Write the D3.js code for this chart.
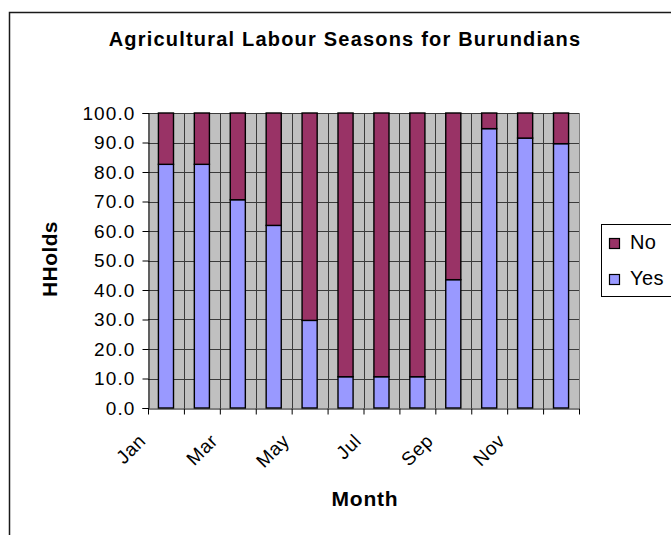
<!DOCTYPE html>
<html>
<head>
<meta charset="utf-8">
<script src="https://cdn.jsdelivr.net/npm/d3@7"></script>
<style>
  html, body { margin: 0; padding: 0; background: #fff; }
  svg { display: block; }
  text { font-family: "Liberation Sans", Arial, sans-serif; fill: #000; }
</style>
</head>
<body>
<svg id="chart" width="671" height="535"></svg>
<script>
// ---- data ----
const months = ["Jan","Feb","Mar","Apr","May","Jun","Jul","Aug","Sep","Oct","Nov","Dec"];
const yesValues = [82.6, 82.6, 70.6, 61.9, 29.7, 10.6, 10.6, 10.6, 43.5, 94.7, 91.5, 89.6];
const noValues  = [17.4, 17.4, 29.4, 38.1, 70.3, 89.4, 89.4, 89.4, 56.5, 5.3, 8.5, 10.4];
const seriesNames = ["Yes", "No"];
const yTickValues = [0, 10, 20, 30, 40, 50, 60, 70, 80, 90, 100];
const xTickLabels = ["Jan", "", "Mar", "", "May", "", "Jul", "", "Sep", "", "Nov", ""];
const titleText = "Agricultural Labour Seasons for Burundians";
const xTitle = "Month";
const yTitle = "HHolds";

// ---- layout ----
const colors = { Yes: "#9999FF", No: "#993366" };
const plot = { left: 148, right: 579, top: 113, bottom: 408 };

const svg = d3.select("#chart");

// outer chart frame
svg.append("rect")
  .attr("x", 9.5).attr("y", 12.5).attr("width", 720).attr("height", 600)
  .attr("fill", "#fff").attr("stroke", "#1a1a1a").attr("stroke-width", 1.5);

const table = months.map((m, i) => ({ month: m, Yes: yesValues[i], No: noValues[i] }));
const stacked = d3.stack().keys(seriesNames)(table);

const x = d3.scaleBand().domain(months).range([plot.left, plot.right]).padding(0);
const xEdge = d3.scaleLinear().domain([0, months.length]).range([plot.left, plot.right]);
const y = d3.scaleLinear().domain([0, 100]).range([plot.bottom, plot.top]);

// plot background
svg.append("rect")
  .attr("x", plot.left).attr("y", plot.top)
  .attr("width", plot.right - plot.left).attr("height", plot.bottom - plot.top)
  .attr("fill", "#C0C0C0");

// gridlines
const grid = svg.append("g").attr("stroke", "#3a3a3a").attr("stroke-width", 1);
grid.selectAll("line.h").data(yTickValues.slice(1)).join("line")
  .attr("x1", plot.left).attr("x2", plot.right)
  .attr("y1", d => Math.round(y(d)) + 0.5).attr("y2", d => Math.round(y(d)) + 0.5);
grid.selectAll("line.v").data(d3.range(1, months.length)).join("line")
  .attr("y1", plot.top).attr("y2", plot.bottom)
  .attr("x1", d => Math.round(xEdge(d)) + 0.5).attr("x2", d => Math.round(xEdge(d)) + 0.5);

// plot right border
svg.append("line")
  .attr("x1", plot.right + 0.5).attr("x2", plot.right + 0.5)
  .attr("y1", plot.top).attr("y2", plot.bottom)
  .attr("stroke", "#808080").attr("stroke-width", 1);

// bars
const barW = x.bandwidth() * 0.42;
svg.append("g").selectAll("g").data(stacked).join("g")
  .attr("fill", d => colors[d.key])
  .selectAll("rect").data(d => d).join("rect")
  .attr("x", d => x(d.data.month) + (x.bandwidth() - barW) / 2)
  .attr("width", barW)
  .attr("y", d => y(d[1]))
  .attr("height", d => y(d[0]) - y(d[1]))
  .attr("stroke", "#000").attr("stroke-width", 1.4);

// y axis
const yAxis = svg.append("g")
  .attr("transform", `translate(${plot.left + 0.5},0)`)
  .call(d3.axisLeft(y).tickValues(yTickValues).tickFormat(d3.format(".1f")).tickSize(6).tickPadding(7));
yAxis.select(".domain").attr("stroke", "#000");
yAxis.selectAll(".tick line").attr("stroke", "#000");
yAxis.selectAll(".tick text")
  .style("font-family", '"Liberation Sans", Arial, sans-serif')
  .style("font-size", "19px").style("letter-spacing", "1.1px").attr("fill", "#000");

// x axis (ticks at category boundaries)
const xAxis = svg.append("g")
  .attr("transform", `translate(0,${plot.bottom + 0.5})`)
  .call(d3.axisBottom(xEdge).tickValues(d3.range(0, months.length + 1)).tickFormat("").tickSize(6).tickSizeOuter(0));
xAxis.select(".domain").attr("stroke", "#000");
xAxis.selectAll(".tick line").attr("stroke", "#000");

// x tick labels rotated
svg.append("g").selectAll("text").data(months.map((m, i) => ({ m, label: xTickLabels[i] })).filter(d => d.label))
  .join("text")
  .attr("transform", d => `translate(${x(d.m) + x.bandwidth() / 2 - 19},442) rotate(-45)`)
  .attr("text-anchor", "end")
  .style("font-size", "19px").style("letter-spacing", "0.6px")
  .text(d => d.label);

// title
svg.append("text")
  .attr("x", 345).attr("y", 46)
  .attr("text-anchor", "middle")
  .style("font-size", "20px").style("font-weight", "bold").style("letter-spacing", "1.2px")
  .text(titleText);

// axis titles
svg.append("text")
  .attr("x", 365).attr("y", 506)
  .attr("text-anchor", "middle")
  .style("font-size", "21px").style("font-weight", "bold").style("letter-spacing", "0.8px")
  .text(xTitle);
svg.append("text")
  .attr("transform", "translate(57,259) rotate(-90)")
  .attr("text-anchor", "middle")
  .style("font-size", "21px").style("font-weight", "bold").style("letter-spacing", "0.4px")
  .text(yTitle);

// legend
const legend = svg.append("g");
legend.append("rect")
  .attr("x", 601.5).attr("y", 224.5).attr("width", 90).attr("height", 72)
  .attr("fill", "#fff").attr("stroke", "#000").attr("stroke-width", 1);
const legendOrder = ["No", "Yes"];
const legendItems = legend.selectAll("g.item").data(legendOrder).join("g")
  .attr("transform", (d, i) => `translate(0,${i * 36})`);
legendItems.append("rect")
  .attr("x", 609.5).attr("y", 238.5).attr("width", 10).attr("height", 10)
  .attr("fill", d => colors[d]).attr("stroke", "#000").attr("stroke-width", 1.2);
legendItems.append("text")
  .attr("x", 630).attr("y", 248.5)
  .style("font-size", "20px").style("letter-spacing", "0.4px")
  .text(d => d);
</script>
</body>
</html>
